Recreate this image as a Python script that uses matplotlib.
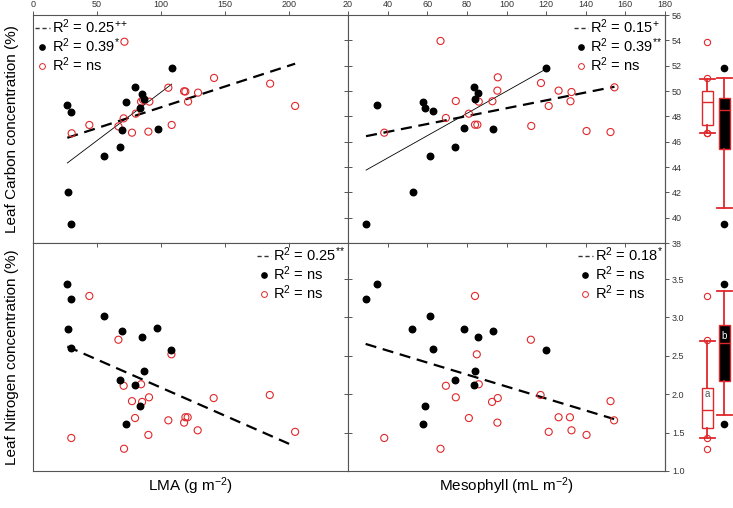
import numpy as np
import matplotlib.pyplot as plt
from matplotlib.lines import Line2D

plt.rcParams['font.family'] = ['Liberation Sans', 'DejaVu Sans']
plt.rcParams['mathtext.default'] = 'regular'

# --- top left: LMA vs leaf carbon ---
lma_c_blk = [26.8, 29.7, 108.3, 79.7, 84.9, 86.7, 72.4, 83.8, 69.3, 97.4, 68.0, 55.5, 27.6, 29.9]
c_lma_blk = [48.87, 48.37, 51.79, 50.29, 49.76, 49.35, 49.11, 48.64, 46.92, 47.03, 45.58, 44.85, 42.0, 39.48]
lma_c_red = [71.4, 105.7, 118.0, 119.0, 128.9, 121.1, 141.4, 185.2, 204.7, 84.4,
             90.9, 80.2, 70.8, 66.7, 44.0, 30.2, 77.3, 90.1, 108.3, 86.0]
c_lma_red = [53.89, 50.26, 49.98, 49.96, 49.87, 49.16, 51.03, 50.58, 48.82, 49.16,
             49.16, 48.21, 47.84, 47.21, 47.32, 46.66, 46.71, 46.79, 47.32, 49.3]

# --- top right: mesophyll vs leaf carbon ---
mes_c_blk = [34.4, 58.1, 59.1, 62.8, 83.5, 85.8, 84.0, 78.6, 93.4, 74.1, 61.5, 52.6, 29.1, 119.9]
c_mes_blk = [48.90, 49.16, 48.68, 48.42, 50.32, 49.82, 49.37, 47.08, 46.98, 45.61, 44.90, 42.03, 39.50, 51.84]
mes_c_red = [66.7, 95.6, 117.4, 95.4, 126.3, 132.8, 154.5, 74.4, 86.0, 92.9,
             132.3, 121.3, 69.4, 81.0, 38.3, 84.1, 85.3, 112.5, 140.4, 152.5]
c_mes_red = [53.95, 51.08, 50.63, 50.03, 50.03, 49.92, 50.29, 49.21, 49.16, 49.19,
             49.19, 48.82, 47.87, 48.21, 46.71, 47.34, 47.34, 47.24, 46.84, 46.76]

# --- bottom left: LMA vs leaf nitrogen ---
lma_n_blk = [26.8, 29.9, 55.5, 27.6, 69.3, 84.9, 97.1, 108.1, 29.7, 86.5, 68.0, 79.7, 83.8, 72.4]
n_lma_blk = [3.44, 3.24, 3.02, 2.85, 2.82, 2.74, 2.86, 2.58, 2.60, 2.30, 2.19, 2.12, 1.85, 1.61]
lma_n_red = [44.0, 66.7, 108.1, 70.8, 84.4, 77.3, 85.2, 90.6, 141.1, 184.9,
             79.7, 105.7, 118.0, 119.0, 120.8, 128.6, 90.1, 29.9, 71.1, 204.7]
n_lma_red = [3.28, 2.71, 2.52, 2.11, 2.13, 1.91, 1.90, 1.96, 1.95, 1.99,
             1.69, 1.66, 1.63, 1.70, 1.70, 1.53, 1.47, 1.43, 1.29, 1.51]

# --- bottom right: mesophyll vs leaf nitrogen ---
mes_n_blk = [28.9, 34.4, 61.5, 52.4, 78.4, 93.4, 85.7, 62.8, 119.9, 84.0, 74.1, 83.5, 58.9, 57.9]
n_mes_blk = [3.24, 3.44, 3.02, 2.85, 2.85, 2.82, 2.74, 2.59, 2.58, 2.30, 2.19, 2.12, 1.85, 1.61]
mes_n_red = [84.1, 112.3, 85.0, 69.4, 86.0, 74.4, 92.7, 95.6, 117.2, 152.5,
             81.0, 126.3, 132.0, 95.4, 154.3, 121.3, 132.8, 140.4, 38.3, 66.7]
n_mes_red = [3.28, 2.71, 2.52, 2.11, 2.13, 1.96, 1.90, 1.95, 1.99, 1.91,
             1.69, 1.70, 1.70, 1.63, 1.66, 1.51, 1.53, 1.47, 1.43, 1.29]

# separate math chunks so the superscript signs stay close together
legend_txt = {
    'tl': ['R$^2$ = 0.25$^{+}$$^{+}$', 'R$^2$ = 0.39$^{*}$', 'R$^2$ = ns'],
    'tr': ['R$^2$ = 0.15$^{+}$', 'R$^2$ = 0.39$^{*}$$^{*}$', 'R$^2$ = ns'],
    'bl': ['R$^2$ = 0.25$^{*}$$^{*}$', 'R$^2$ = ns', 'R$^2$ = ns'],
    'br': ['R$^2$ = 0.18$^{*}$', 'R$^2$ = ns', 'R$^2$ = ns'],
}

W, H = 733, 508
fig = plt.figure(figsize=(W / 100, H / 100), dpi=100)

def fx(px):
    return px / W

def fy(py):
    return 1 - py / H

x_l, x_m, x_r = 33, 348, 665
y_t, y_m, y_b = 15, 243, 471
spine_col = '#555555'
red_col = '#e0282c'

ax_tl = fig.add_axes([fx(x_l), fy(y_m), fx(x_m - x_l), (y_m - y_t) / H])
ax_tr = fig.add_axes([fx(x_m), fy(y_m), fx(x_r - x_m), (y_m - y_t) / H])
ax_bl = fig.add_axes([fx(x_l), fy(y_b), fx(x_m - x_l), (y_b - y_m) / H])
ax_br = fig.add_axes([fx(x_m), fy(y_b), fx(x_r - x_m), (y_b - y_m) / H])


def draw_panel(ax, xb, yb, xr, yr, labels, loc, thin_fit):
    xb, yb, xr, yr = map(np.asarray, (xb, yb, xr, yr))
    xa = np.concatenate([xb, xr])
    ya = np.concatenate([yb, yr])
    # fit over all points (dashed)
    k, b = np.polyfit(xa, ya, 1)
    xs = np.array([xa.min(), xa.max()])
    ax.plot(xs, k * xs + b, color='black', lw=1.6, dashes=(5, 3), zorder=2)
    # fit over black group only (thin)
    if thin_fit:
        k2, b2 = np.polyfit(xb, yb, 1)
        xs2 = np.array([xb.min(), xb.max()])
        ax.plot(xs2, k2 * xs2 + b2, color='black', lw=0.6, zorder=2)
    ax.scatter(xr, yr, s=26, facecolors='none', edgecolors=red_col, linewidths=0.8, zorder=3)
    ax.scatter(xb, yb, s=22, color='black', zorder=4)
    handles = [
        Line2D([], [], color='#333333', lw=1.0, dashes=(3, 2)),
        Line2D([], [], color='black', marker='o', ls='none', ms=3.8),
        Line2D([], [], marker='o', ls='none', ms=4.2, mfc='none', mec=red_col, mew=0.7),
    ]
    ax.legend(handles, labels, loc=loc, frameon=False, fontsize=10.5,
              handlelength=1.0, handletextpad=0.15, labelspacing=0.05,
              borderaxespad=0.1, borderpad=0.05)
    for s in ax.spines.values():
        s.set_color(spine_col)
        s.set_linewidth(0.8)


draw_panel(ax_tl, lma_c_blk, c_lma_blk, lma_c_red, c_lma_red, legend_txt['tl'], 'upper left', True)
draw_panel(ax_tr, mes_c_blk, c_mes_blk, mes_c_red, c_mes_red, legend_txt['tr'], 'upper right', True)
draw_panel(ax_bl, lma_n_blk, n_lma_blk, lma_n_red, n_lma_red, legend_txt['bl'], 'upper right', False)
draw_panel(ax_br, mes_n_blk, n_mes_blk, mes_n_red, n_mes_red, legend_txt['br'], 'upper right', False)

c_ticks = np.arange(38, 57, 2)
n_ticks = np.arange(1.0, 3.6, 0.5)

for ax in (ax_tl, ax_bl):
    ax.set_xlim(0, 246)
    ax.set_xticks([0, 50, 100, 150, 200])
for ax in (ax_tr, ax_br):
    ax.set_xlim(20, 180)
    ax.set_xticks(np.arange(20, 181, 20))
for ax in (ax_tl, ax_tr):
    ax.set_ylim(38, 56)
    ax.set_yticks(c_ticks)
for ax in (ax_bl, ax_br):
    ax.set_ylim(1.0, 3.97)
    ax.set_yticks(n_ticks)

tick_kw = dict(labelsize=6.5, colors=spine_col, labelcolor='#333333', width=0.7)
# top panels: labelled ticks on top, outward
for ax in (ax_tl, ax_tr):
    ax.tick_params(axis='x', top=True, bottom=False, labeltop=True,
                   labelbottom=False, direction='out', length=3, pad=1.5, **tick_kw)
for ax in (ax_bl, ax_br):
    ax.tick_params(axis='x', top=True, bottom=False, labeltop=False, labelbottom=False,
                   direction='in', length=3, **tick_kw)
for ax in (ax_tl, ax_bl):
    ax.tick_params(axis='y', left=False, right=True, labelleft=False, labelright=False,
                   direction='in', length=3, **tick_kw)
for ax in (ax_tr, ax_br):
    ax.tick_params(axis='y', left=True, right=False, labelleft=False, labelright=False,
                   direction='in', length=3, **tick_kw)
    # right axis with labels, outward
    sec = ax.secondary_yaxis('right')
    sec.set_yticks(ax.get_yticks())
    sec.tick_params(direction='out', length=3, pad=2, **tick_kw)
    sec.spines['right'].set_color(spine_col)
    sec.spines['right'].set_linewidth(0.8)
for child in ax_br.child_axes:
    child.yaxis.set_major_formatter('{x:.1f}')

fig.text(fx(12), fy((y_t + y_m) / 2), 'Leaf Carbon concentration (%)', rotation=90,
         ha='center', va='center', fontsize=11)
fig.text(fx(12), fy((y_m + y_b) / 2), 'Leaf Nitrogen concentration (%)', rotation=90,
         ha='center', va='center', fontsize=11)
fig.text(fx((x_l + x_m) / 2), fy(486), 'LMA (g m$^{-2}$)', ha='center', va='center', fontsize=11)
fig.text(fx((x_m + x_r) / 2), fy(486), 'Mesophyll (mL m$^{-2}$)', ha='center', va='center', fontsize=11)


# --- box plots on the right (10th/90th percentile whiskers) ---
def box_stats(vals):
    v = np.asarray(vals)
    q1, med, q3, lo, hi = np.percentile(v, [25, 50, 75, 10, 90], method='weibull')
    return dict(med=med, q1=q1, q3=q3, whislo=lo, whishi=hi,
                fliers=v[(v < lo) | (v > hi)])


def draw_boxes(rect, ylim, red_vals, blk_vals):
    bax = fig.add_axes(rect)
    bax.set_xlim(0, W - x_r)
    bax.set_ylim(*ylim)
    bax.axis('off')
    common = dict(widths=11, capwidths=15, patch_artist=True, manage_ticks=False,
                  whiskerprops=dict(color=red_col, lw=1.3),
                  capprops=dict(color=red_col, lw=1.3),
                  medianprops=dict(color=red_col, lw=1.0))
    bax.bxp([box_stats(red_vals)], positions=[42],
            boxprops=dict(facecolor='white', edgecolor=red_col, lw=1.0),
            flierprops=dict(marker='o', mfc='none', mec=red_col, ms=4.5, mew=0.8), **common)
    bax.bxp([box_stats(blk_vals)], positions=[59],
            boxprops=dict(facecolor='black', edgecolor=red_col, lw=1.0),
            flierprops=dict(marker='o', mfc='black', mec='black', ms=4.5), **common)
    return bax


box_top = draw_boxes([fx(x_r), fy(y_m), fx(W - x_r), (y_m - y_t) / H], (38, 56), c_lma_red, c_lma_blk)
box_bot = draw_boxes([fx(x_r), fy(y_b), fx(W - x_r), (y_b - y_m) / H], (1.0, 3.97), n_lma_red, n_lma_blk)
box_bot.text(42, 2.0, 'a', ha='center', va='center', fontsize=7, color='#555555')
box_bot.text(59, 2.76, 'b', ha='center', va='center', fontsize=7, color='white')

fig.savefig('out.png', dpi=100)
